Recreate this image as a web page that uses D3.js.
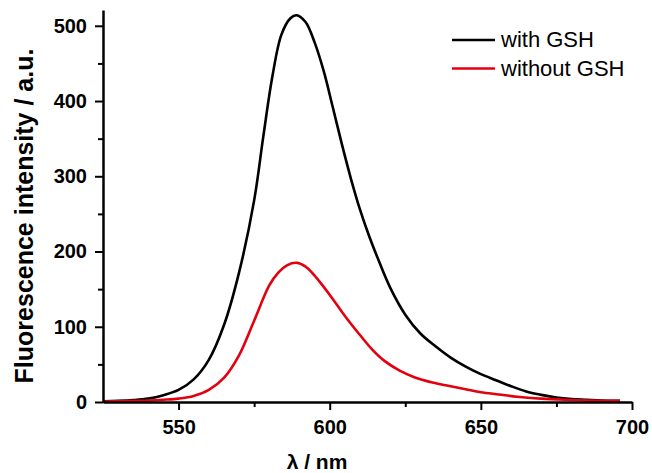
<!DOCTYPE html>
<html>
<head>
<meta charset="utf-8">
<script src="https://cdn.jsdelivr.net/npm/d3@7"></script>
<style>
  body { margin: 0; background: #fff; }
  svg { display: block; font-family: Arial, "Liberation Sans", sans-serif; }
</style>
</head>
<body>
<div id="chart"></div>
<script>
const width = 652, height = 473
const margin = ({top: 10, right: 20, bottom: 71, left: 103})

// wavelengths (nm) and intensities
const withGshX = [525, 530, 535, 540, 545, 550, 555, 560, 565, 570, 575, 578, 581, 584, 587, 589, 592, 595, 598, 601, 604, 607, 610, 613, 616, 620, 625, 630, 635, 640, 645, 650, 655, 660, 665, 670, 675, 680, 685, 690, 696]
const withGshY = [1, 1.5, 2.5, 4.5, 9, 16, 30, 56, 102, 172, 268, 352, 432, 488, 510, 514, 505, 478, 440, 392, 343, 297, 256, 221, 190, 152, 116, 91, 74, 59, 47, 37, 29, 21, 14, 9.5, 6, 4, 3, 2, 1.5]

const withoutGshX = [525, 530, 535, 540, 545, 550, 555, 560, 565, 570, 575, 580, 583, 586, 589, 592, 595, 598, 601, 604, 607, 610, 614, 618, 623, 628, 634, 640, 645, 650, 656, 662, 670, 678, 686, 696]
const withoutGshY = [0.5, 1, 1.5, 2, 3, 4.5, 8, 16, 32, 62, 108, 155, 172, 182, 185, 180, 168, 153, 137, 120, 104, 89, 70, 55, 42, 33, 26, 21, 17, 13, 10, 7, 4.5, 3, 2, 1.5]

const xMajor = [550, 600, 650, 700]
const xMinor = [575, 625, 675]
const yMajor = [0, 100, 200, 300, 400, 500]
const yMinor = [50, 150, 250, 350, 450]

const series = [
  {name: "with GSH", color: "#000000", data: withGshX.map((x, i) => [x, withGshY[i]])},
  {name: "without GSH", color: "#e3000f", data: withoutGshX.map((x, i) => [x, withoutGshY[i]])}
]

const svg = d3.select("#chart")
  .append("svg")
  .attr("width", width)
  .attr("height", height)

const x = d3.scaleLinear()
  .domain([525, 700])
  .range([margin.left, width - margin.right])

const y = d3.scaleLinear()
  .domain([0, 521])
  .range([height - margin.bottom, margin.top])

const line = d3.line()
  .x(d => x(d[0]))
  .y(d => y(d[1]))
  .curve(d3.curveCatmullRom.alpha(0.5))

// curves
svg.append("g")
  .selectAll("path")
  .data(series)
  .join("path")
  .attr("fill", "none")
  .attr("stroke", d => d.color)
  .attr("stroke-width", 2.6)
  .attr("stroke-linejoin", "round")
  .attr("d", d => line(d.data))

const styleAxis = g => g
  .call(g => g.select(".domain").attr("stroke-width", 2.5))
  .call(g => g.selectAll(".tick line").attr("stroke-width", 2))
  .call(g => g.selectAll(".tick text")
    .attr("font-size", 20)
    .attr("font-weight", "bold")
    .attr("fill", "#000"))

// x axis
svg.append("g")
  .attr("transform", `translate(0,${height - margin.bottom})`)
  .call(d3.axisBottom(x).tickValues(xMinor).tickSize(5).tickFormat(""))
  .call(g => g.select(".domain").remove())
  .call(g => g.selectAll(".tick line").attr("stroke-width", 2))

svg.append("g")
  .attr("transform", `translate(0,${height - margin.bottom})`)
  .call(d3.axisBottom(x).tickValues(xMajor).tickSize(8).tickSizeOuter(0).tickPadding(10))
  .call(styleAxis)

// y axis
svg.append("g")
  .attr("transform", `translate(${margin.left},0)`)
  .call(d3.axisLeft(y).tickValues(yMinor).tickSize(5).tickFormat(""))
  .call(g => g.select(".domain").remove())
  .call(g => g.selectAll(".tick line").attr("stroke-width", 2))

svg.append("g")
  .attr("transform", `translate(${margin.left},0)`)
  .call(d3.axisLeft(y).tickValues(yMajor).tickSize(8).tickSizeOuter(0).tickPadding(8))
  .call(styleAxis)

// axis titles
svg.append("text")
  .attr("x", 317)
  .attr("y", 469)
  .attr("text-anchor", "middle")
  .attr("font-size", 21)
  .attr("font-weight", "bold")
  .text("λ / nm")

svg.append("text")
  .attr("transform", `translate(33,216) rotate(-90)`)
  .attr("text-anchor", "middle")
  .attr("font-size", 25)
  .attr("font-weight", "bold")
  .text("Fluorescence intensity / a.u.")

// legend
const legend = svg.append("g")
  .selectAll("g")
  .data(series)
  .join("g")
  .attr("transform", (d, i) => `translate(452,${40 + i * 28.5})`)

legend.append("line")
  .attr("x1", 0)
  .attr("x2", 43)
  .attr("stroke", d => d.color)
  .attr("stroke-width", 2.6)

legend.append("text")
  .attr("x", 49)
  .attr("y", 7)
  .attr("font-size", 22)
  .text(d => d.name)
</script>
</body>
</html>
